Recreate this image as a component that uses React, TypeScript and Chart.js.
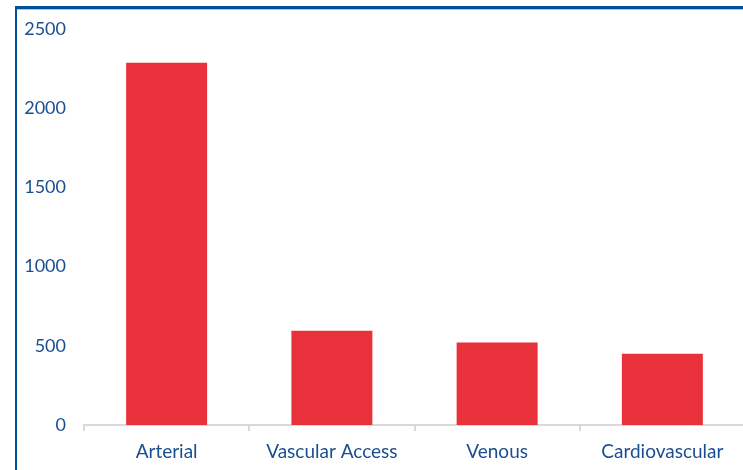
import React, { useEffect, useRef } from "react";
import { Chart, registerables } from "chart.js";

Chart.register(...registerables);

const categories = ["Arterial", "Vascular Access", "Venous", "Cardiovascular"];
const values = [2285, 595, 520, 450];
const yTicks = [0, 500, 1000, 1500, 2000, 2500];

export default function App() {
  const ref = useRef<HTMLCanvasElement>(null);
  useEffect(() => {
    if (!ref.current) return;
    const chart = new Chart(ref.current, {
      type: "bar",
      data: {
        labels: categories,
        datasets: [
          {
            data: values,
            backgroundColor: "#e8313a",
            borderWidth: 0,
            barPercentage: 0.49,
            categoryPercentage: 1,
          },
        ],
      },
      options: {
        animation: false,
        responsive: true,
        maintainAspectRatio: false,
        layout: { padding: { top: 24, left: 0, right: 0, bottom: 0 } },
        plugins: { legend: { display: false }, tooltip: { enabled: false } },
        scales: {
          x: {
            grid: {
              display: true,
              drawOnChartArea: false,
              drawTicks: true,
              tickLength: 6,
              color: "#d9d9d9",
              lineWidth: 2,
              offset: true,
            },
            border: { display: true, color: "#d9d9d9", width: 2 },
            ticks: {
              color: "#1a4e91",
              font: { family: "Lato", size: 19 },
              padding: 9,
              maxRotation: 0,
              autoSkip: false,
            },
            afterFit: (s: any) => {
              s.height = 45;
            },
          },
          y: {
            min: 0,
            max: 2500,
            afterBuildTicks: (s: any) => {
              s.ticks = yTicks.map((v) => ({ value: v }));
            },
            grid: { display: false, drawTicks: false },
            border: { display: false },
            ticks: {
              color: "#1a4e91",
              font: { family: "Lato", size: 18 },
              padding: 18,
              callback: (v: any) => String(v),
            },
            afterFit: (s: any) => {
              s.width = 84;
            },
          },
        },
      },
    });
    return () => chart.destroy();
  }, []);

  return (
    <div
      style={{
        position: "fixed",
        left: 0,
        top: 0,
        width: 743,
        height: 470,
        overflow: "hidden",
        background: "#ffffff",
      }}
    >
      <div
        style={{
          position: "absolute",
          left: 15,
          top: 6,
          width: 800,
          height: 600,
          borderLeft: "2px solid #004f9a",
          borderTop: "3px solid #004f9a",
          boxShadow: "inset 0 1px 0 #a9c4e4",
        }}
      />
      <div style={{ position: "absolute", left: 0, top: 0, width: 745, height: 470 }}>
        <canvas ref={ref} />
      </div>
    </div>
  );
}
